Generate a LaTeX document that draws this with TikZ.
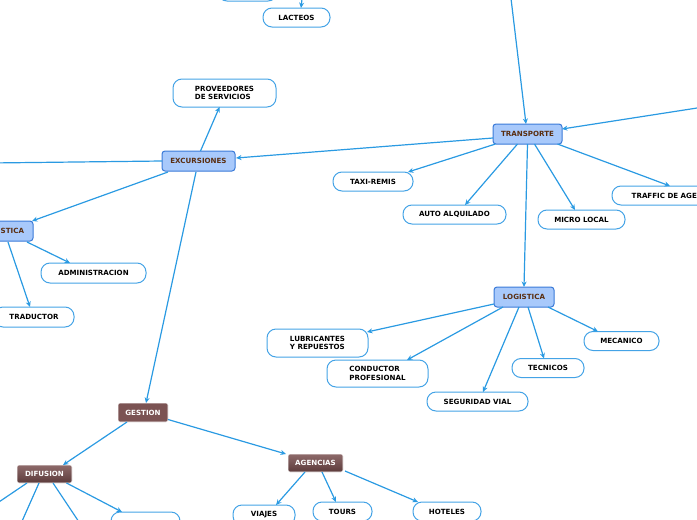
\documentclass[tikz,border=0pt]{standalone}
\usepackage{fontspec}
\setmainfont{DejaVu Sans}
\usetikzlibrary{arrows.meta,calc}
\definecolor{linkc}{HTML}{2A9AE2}
\definecolor{leafc}{HTML}{44A3E6}
\definecolor{mainfill}{HTML}{A8C9FB}
\definecolor{mainborder}{HTML}{3A7AD8}
\definecolor{maintext}{HTML}{5A2E10}
\definecolor{brownfill}{HTML}{7B5353}
\definecolor{browntop}{HTML}{8E6A6A}
\definecolor{brownbot}{HTML}{5C3B3B}
\newcommand\mmf{\fontsize{7.1}{8.6}\selectfont\bfseries}
\tikzset{
  leaf/.style={draw=leafc,fill=white,line width=1pt,rounded corners=9pt,inner sep=0pt,font=\mmf,align=left,text=black},
  mainbox/.style={draw=mainborder,fill=mainfill,line width=1pt,rounded corners=3pt,inner sep=0pt,font=\mmf,text=maintext},
  brownbox/.style={draw=white,fill=brownfill,line width=0.6pt,rounded corners=2pt,inner sep=0pt,font=\mmf,text=white},
  browngrad/.style={draw=white,top color=browntop,bottom color=brownbot,line width=0.6pt,rounded corners=2pt,inner sep=0pt,font=\mmf,text=white},
  conn/.style={draw=linkc,line width=1.2pt,-{Stealth[length=5.5pt,width=5pt]}},
  plainconn/.style={draw=linkc,line width=1.2pt}
}
\begin{document}
\begin{tikzpicture}[x=1pt,y=-1pt]
\useasboundingbox (0,0) rectangle (697,520);
\clip (0,0) rectangle (697,520);
% free ends
\coordinate (ctop) at (510,-10);
\coordinate (cright) at (710,106);
\coordinate (cleft) at (-10,163);
\coordinate (clact) at (303,-10);
\coordinate (cd1) at (-10,508);
\coordinate (cd2) at (19,528);
\coordinate (cd3) at (83,528);
% nodes
\node[leaf,minimum width=59pt,minimum height=20pt] (topbox) at (247.5,-9) {};
\node[leaf,minimum width=67pt,minimum height=19pt] (lacteos) at (296.5,17.5) {LACTEOS};
\node[leaf,minimum width=103pt,minimum height=28pt] (prov) at (224.5,93) {PROVEEDORES\\DE SERVICIOS};
\node[mainbox,minimum width=69pt,minimum height=20pt] (trans) at (527.5,134) {TRANSPORTE};
\node[mainbox,minimum width=73pt,minimum height=20pt] (excur) at (198.5,161) {EXCURSIONES};
\node[mainbox,minimum width=60pt,minimum height=20pt] (logl) at (3,231) {LOGISTICA};
\node[leaf,minimum width=105pt,minimum height=20pt] (admin) at (93.5,273) {ADMINISTRACION};
\node[leaf,minimum width=80pt,minimum height=20pt] (trad) at (34,317) {TRADUCTOR};
\node[leaf,minimum width=80pt,minimum height=19pt] (taxi) at (373,181.5) {TAXI-REMIS};
\node[leaf,minimum width=103pt,minimum height=19pt] (auto) at (454.5,214.5) {AUTO ALQUILADO};
\node[leaf,minimum width=87pt,minimum height=19pt] (micro) at (581.5,219.5) {MICRO LOCAL};
\node[leaf,minimum width=129pt,minimum height=19pt] (traffic) at (676.5,195.5) {TRAFFIC DE AGENCIAS};
\node[mainbox,minimum width=60pt,minimum height=20pt] (logr) at (524,297) {LOGISTICA};
\node[leaf,minimum width=101pt,minimum height=28pt] (lub) at (317.5,343) {LUBRICANTES\\Y REPUESTOS};
\node[leaf,minimum width=101pt,minimum height=27pt] (cond) at (377.5,373.5) {CONDUCTOR\\PROFESIONAL};
\node[leaf,minimum width=101pt,minimum height=19pt] (seg) at (477.5,401.5) {SEGURIDAD VIAL};
\node[leaf,minimum width=72pt,minimum height=19pt] (tec) at (548,368) {TECNICOS};
\node[leaf,minimum width=75pt,minimum height=19pt] (mec) at (621.5,341) {MECANICO};
\node[brownbox,minimum width=50pt,minimum height=19pt] (gestion) at (143,412.5) {GESTION};
\node[browngrad,minimum width=55pt,minimum height=18pt] (difusion) at (44.5,474) {DIFUSION};
\node[browngrad,minimum width=55pt,minimum height=18pt] (agencias) at (315.5,463) {AGENCIAS};
\node[leaf,minimum width=69pt,minimum height=19pt] (dbox) at (145.5,521.5) {};
\node[leaf,minimum width=62pt,minimum height=20pt] (viajes) at (264,515) {VIAJES};
\node[leaf,minimum width=59pt,minimum height=19pt] (tours) at (342.5,511.5) {TOURS};
\node[leaf,minimum width=68pt,minimum height=19pt] (hoteles) at (447,511.5) {HOTELES};
% connectors
\draw[conn] (clact) -- ([shift={(4.5,-9.5)}]lacteos.center);
\draw[conn] (ctop) -- ([shift={(-1.5,-10)}]trans.center);
\draw[conn] (cright) -- ([shift={(34.5,-5)}]trans.center);
\draw[conn] ([shift={(-34.5,4)}]trans.center) -- ([shift={(37.5,-3)}]excur.center);
\draw[plainconn] (cleft) -- ([shift={(-36.5,0)}]excur.center);
\draw[conn] ([shift={(2,-10)}]excur.center) -- ([shift={(-5,14)}]prov.center);
\draw[conn] ([shift={(-30.5,11)}]excur.center) -- ([shift={(29,-10)}]logl.center);
\draw[conn] ([shift={(24,11)}]logl.center) -- ([shift={(-23.5,-10)}]admin.center);
\draw[conn] ([shift={(5,11)}]logl.center) -- ([shift={(-4,-10)}]trad.center);
\draw[conn] ([shift={(-2.5,11)}]excur.center) -- ([shift={(3,-9.5)}]gestion.center);
\draw[conn] ([shift={(-32,10)}]trans.center) -- ([shift={(35,-9.5)}]taxi.center);
\draw[conn] ([shift={(-10,10)}]trans.center) -- ([shift={(10.5,-9.5)}]auto.center);
\draw[conn] ([shift={(0,10)}]trans.center) -- ([shift={(0,-10)}]logr.center);
\draw[conn] ([shift={(7,10)}]trans.center) -- ([shift={(-6.5,-9.5)}]micro.center);
\draw[conn] ([shift={(30,10)}]trans.center) -- ([shift={(-6.5,-9.5)}]traffic.center);
\draw[conn] ([shift={(-30,7)}]logr.center) -- ([shift={(49.5,-11)}]lub.center);
\draw[conn] ([shift={(-21,10)}]logr.center) -- ([shift={(29.5,-13.5)}]cond.center);
\draw[conn] ([shift={(-5,10)}]logr.center) -- ([shift={(5.5,-9.5)}]seg.center);
\draw[conn] ([shift={(4,10)}]logr.center) -- ([shift={(-4,-9.5)}]tec.center);
\draw[conn] ([shift={(24,10)}]logr.center) -- ([shift={(-23.5,-9.5)}]mec.center);
\draw[conn] ([shift={(-16,9.5)}]gestion.center) -- ([shift={(18.5,-9)}]difusion.center);
\draw[conn] ([shift={(25,7)}]gestion.center) -- ([shift={(-29.5,-9)}]agencias.center);
\draw[conn] ([shift={(-10.5,9)}]agencias.center) -- ([shift={(12,-10)}]viajes.center);
\draw[conn] ([shift={(6.5,9)}]agencias.center) -- ([shift={(-6.5,-9.5)}]tours.center);
\draw[conn] ([shift={(29.5,8)}]agencias.center) -- ([shift={(-29,-9.5)}]hoteles.center);
\draw[conn] ([shift={(22,9)}]difusion.center) -- ([shift={(-23.5,-9.5)}]dbox.center);
\draw[plainconn] ([shift={(-17.5,9)}]difusion.center) -- (cd1);
\draw[plainconn] ([shift={(-5.5,9)}]difusion.center) -- (cd2);
\draw[plainconn] ([shift={(8.5,9)}]difusion.center) -- (cd3);
\end{tikzpicture}
\end{document}
